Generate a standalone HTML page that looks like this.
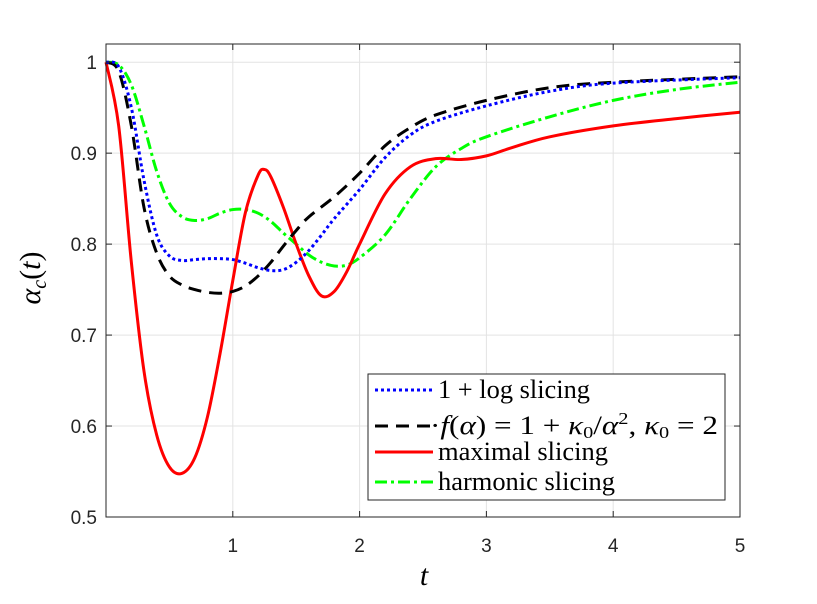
<!DOCTYPE html>
<html><head><meta charset="utf-8"><style>
body{margin:0;background:#fff;}
svg text{font-family:"Liberation Sans",sans-serif;}
.m{font-family:"Liberation Serif",serif;}
</style></head><body>
<svg width="817" height="599" viewBox="0 0 817 599" xmlns="http://www.w3.org/2000/svg">
<g id="grid"></g>
<g id="series"></g>
<rect x="106" y="44" width="634" height="473" fill="none" stroke="#262626" stroke-width="1"/>
<g id="ticks"></g>
<text x="40" y="278" transform="rotate(-90 40 278)" class="m" font-size="30" font-style="italic" text-anchor="middle" fill="#000">α<tspan font-size="20" dy="6">c</tspan><tspan dy="-6" font-style="normal">(</tspan>t<tspan font-style="normal">)</tspan></text>
<text x="424" y="585" class="m" font-size="30" font-style="italic" text-anchor="middle">t</text>
<g>
<rect x="368" y="374" width="357" height="126" fill="#fff" stroke="#262626" stroke-width="1"/>
<line x1="375" y1="390" x2="433" y2="390" stroke="#0000ff" stroke-width="3" stroke-dasharray="3 3"/>
<text x="438" y="398" class="m" font-size="26" textLength="152" lengthAdjust="spacingAndGlyphs">1 + log slicing</text>
<line x1="375" y1="426" x2="433" y2="426" stroke="#000" stroke-width="3" stroke-dasharray="13 8"/>
<text x="430" y="434" class="m" font-size="26" textLength="288" lengthAdjust="spacingAndGlyphs">·<tspan font-style="italic">f</tspan>(<tspan font-style="italic">α</tspan>) = 1 + <tspan font-style="italic">κ</tspan><tspan font-size="17" dy="4">0</tspan><tspan dy="-4">/</tspan><tspan font-style="italic">α</tspan><tspan font-size="17" dy="-10">2</tspan><tspan dy="10">,  </tspan><tspan font-style="italic">κ</tspan><tspan font-size="17" dy="4">0</tspan><tspan dy="-4"> = 2</tspan></text>
<line x1="375" y1="452" x2="433" y2="452" stroke="#ff0000" stroke-width="3"/>
<text x="438" y="460" class="m" font-size="26" textLength="170" lengthAdjust="spacingAndGlyphs">maximal slicing</text>
<line x1="375" y1="482" x2="433" y2="482" stroke="#00ff00" stroke-width="3" stroke-dasharray="12 4 3 4"/>
<text x="438" y="490" class="m" font-size="26" textLength="177" lengthAdjust="spacingAndGlyphs">harmonic slicing</text>
</g>
</svg>
<script>
const xTicks=[1,2,3,4,5];
const yTicks=[0.5,0.6,0.7,0.8,0.9,1];
const yTickLabels=["0.5","0.6","0.7","0.8","0.9","1"];
const tLog=[0,0.1,0.2,0.3,0.4,0.5,0.6,0.7,0.8,0.9,1.0,1.1,1.2,1.3,1.4,1.5,1.6,1.7,1.8,2.0,2.2,2.4,2.6,3.0,3.5,4,5];
const vLog=[1,0.995,0.95,0.87,0.81,0.787,0.782,0.783,0.784,0.784,0.783,0.779,0.774,0.771,0.772,0.78,0.793,0.81,0.828,0.86,0.895,0.92,0.935,0.952,0.968,0.977,0.983];
const tF=[0,0.1,0.2,0.3,0.4,0.5,0.6,0.7,0.8,0.9,1.0,1.1,1.2,1.3,1.4,1.5,1.6,1.8,2.0,2.2,2.4,2.6,3.0,3.5,4,5];
const vF=[1,0.99,0.93,0.84,0.79,0.765,0.755,0.75,0.747,0.746,0.748,0.754,0.765,0.78,0.798,0.815,0.83,0.852,0.878,0.908,0.928,0.942,0.958,0.972,0.978,0.984];
const tMax=[0,0.1,0.2,0.3,0.4,0.5,0.6,0.7,0.8,0.9,1.0,1.1,1.2,1.25,1.3,1.4,1.5,1.6,1.7,1.8,1.9,2.0,2.2,2.4,2.6,2.8,3.0,3.2,3.5,4,4.5,5];
const vMax=[1,0.93,0.78,0.66,0.59,0.555,0.548,0.565,0.61,0.68,0.76,0.835,0.876,0.882,0.874,0.84,0.80,0.765,0.743,0.748,0.77,0.80,0.855,0.885,0.894,0.893,0.897,0.906,0.918,0.93,0.938,0.945];
const tHarm=[0,0.1,0.2,0.3,0.4,0.5,0.6,0.7,0.8,0.9,1.0,1.1,1.2,1.3,1.4,1.5,1.6,1.7,1.8,1.9,2.0,2.2,2.4,2.6,2.8,3.0,3.5,4,4.5,5];
const vHarm=[1,0.997,0.975,0.93,0.88,0.845,0.83,0.826,0.828,0.834,0.838,0.838,0.834,0.825,0.812,0.8,0.788,0.78,0.776,0.777,0.785,0.81,0.85,0.885,0.905,0.918,0.94,0.958,0.97,0.978];
const X0=106,X1=740,Y0=517,Y1=44,xMin=0,xMax=5,yMin=0.5,yMax=1.02;
const sx=v=>X0+(v-xMin)/(xMax-xMin)*(X1-X0);
const sy=v=>Y0-(v-yMin)/(yMax-yMin)*(Y0-Y1);
const NS="http://www.w3.org/2000/svg";
function mk(tag,attrs,parent){const e=document.createElementNS(NS,tag);for(const k in attrs)e.setAttribute(k,attrs[k]);parent.appendChild(e);return e;}
const grid=document.getElementById('grid'),ticks=document.getElementById('ticks'),series=document.getElementById('series');
xTicks.forEach(t=>{
 const g=mk('line',{x1:sx(t),x2:sx(t),y1:Y1,y2:Y0,stroke:'#e3e3e3','stroke-width':1},grid);
 
 
 const a=mk('line',{x1:sx(t),x2:sx(t),y1:Y0,y2:Y0-6,stroke:'#262626'},ticks);
 
 
 const b=mk('line',{x1:sx(t),x2:sx(t),y1:Y1,y2:Y1+6,stroke:'#262626'},ticks);
 
 
 const l=mk('text',{x:sx(t),y:Y0+35,'text-anchor':'middle','font-size':19,fill:'#262626'},ticks);
 l.textContent=String(t);
 
 
});
yTicks.forEach((t,i)=>{
 const g=mk('line',{x1:X0,x2:X1,y1:sy(t),y2:sy(t),stroke:'#e3e3e3','stroke-width':1},grid);
 
 
 const a=mk('line',{x1:X0,x2:X0+6,y1:sy(t),y2:sy(t),stroke:'#262626'},ticks);
 
 
 const b=mk('line',{x1:X1,x2:X1-6,y1:sy(t),y2:sy(t),stroke:'#262626'},ticks);
 
 
 const l=mk('text',{x:X0-9,y:sy(t)+7,'text-anchor':'end','font-size':19,fill:'#262626'},ticks);
 l.textContent=yTickLabels[i];
 
 
});
function pathD(ts,vs){
 const p=ts.map((t,i)=>[sx(t),sy(vs[i])]);
 let d='M'+p[0][0]+','+p[0][1];
 for(let i=0;i<p.length-1;i++){
  const p0=p[Math.max(i-1,0)],p1=p[i],p2=p[i+1],p3=p[Math.min(i+2,p.length-1)];
  const c1=[p1[0]+(p2[0]-p0[0])/6,p1[1]+(p2[1]-p0[1])/6];
  const c2=[p2[0]-(p3[0]-p1[0])/6,p2[1]-(p3[1]-p1[1])/6];
  d+=' C'+c1+' '+c2+' '+p2;
 }
 return d;
}
const defs=[[tHarm,vHarm,'#00ff00','12 4 3 4','series-harmonic'],[tMax,vMax,'#ff0000','none','series-maximal'],[tF,vF,'#000000','13 8','series-f-alpha'],[tLog,vLog,'#0000ff','3 3','series-log']];
defs.forEach(s=>{
 const e=mk('path',{d:pathD(s[0],s[1]),fill:'none',stroke:s[2],'stroke-width':3,'stroke-dasharray':s[3]},series);
 
 
});
</script>
</body></html>
